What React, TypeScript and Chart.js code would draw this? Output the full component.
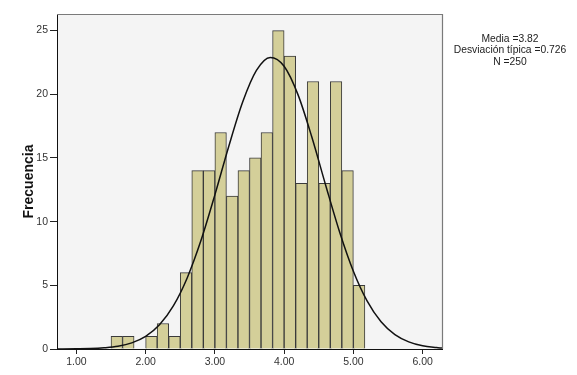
import React, { useEffect, useRef } from "react";
import { Chart, registerables } from "chart.js";

Chart.register(...registerables);

// Histogram bins (centre of each 1/6-wide bin) and their frequencies
const binCenters = [
  1.5833, 1.75, 1.9167, 2.0833, 2.25, 2.4167, 2.5833, 2.75, 2.9167, 3.0833, 3.25,
  3.4167, 3.5833, 3.75, 3.9167, 4.0833, 4.25, 4.4167, 4.5833, 4.75, 4.9167, 5.0833,
];
const frequencies = [1, 1, 0, 1, 2, 1, 6, 14, 14, 17, 12, 14, 15, 17, 25, 23, 13, 21, 13, 21, 14, 5];

// Normal curve points
const curveX = [
  0.72, 0.8, 1.0, 1.2, 1.4, 1.6, 1.8, 2.0, 2.2, 2.4, 2.6, 2.8, 3.0, 3.2, 3.4, 3.6, 3.8, 4.0,
  4.2, 4.4, 4.6, 4.8, 5.0, 5.2, 5.4, 5.6, 5.8, 6.0, 6.2, 6.28,
];
const curveY = [
  0.0, 0.0, 0.01, 0.03, 0.09, 0.21, 0.48, 0.99, 1.9, 3.38, 5.58, 8.53, 12.1, 15.9, 19.37,
  21.87, 22.89, 22.2, 19.97, 16.64, 12.86, 9.21, 6.11, 3.76, 2.14, 1.13, 0.56, 0.25, 0.11, 0.07,
];

const statsLines = ["Media =3.82", "Desviación típica =0.726", "N =250"];
const yTitle = "Frecuencia";

const FONT = "'Liberation Sans', Arial, sans-serif";

export default function App() {
  const ref = useRef<HTMLCanvasElement | null>(null);

  useEffect(() => {
    if (!ref.current) return;

    const framePlugin = {
      id: "frame",
      beforeDraw(chart: any) {
        const { ctx, chartArea: a } = chart;
        ctx.save();
        ctx.fillStyle = "#ffffff";
        ctx.fillRect(0, 0, chart.width, chart.height);
        ctx.fillStyle = "#f4f4f4";
        ctx.fillRect(a.left, a.top, a.right - a.left, a.bottom - a.top);
        ctx.restore();
      },
      afterDraw(chart: any) {
        const { ctx, chartArea: a } = chart;
        ctx.save();
        ctx.strokeStyle = "#7a7a7a";
        ctx.lineWidth = 1.2;
        ctx.beginPath();
        ctx.moveTo(a.left, a.top + 0.5);
        ctx.lineTo(a.right + 0.5, a.top + 0.5);
        ctx.lineTo(a.right + 0.5, a.bottom);
        ctx.stroke();
        ctx.fillStyle = "#222222";
        ctx.font = `10.3px ${FONT}`;
        ctx.textAlign = "center";
        ctx.textBaseline = "middle";
        statsLines.forEach((t, i) => ctx.fillText(t, 510, 39.5 + i * 11.1));
        ctx.restore();
      },
    };

    const chart = new Chart(ref.current, {
      type: "bar",
      data: {
        datasets: [
          {
            type: "line",
            data: curveX.map((x, i) => ({ x, y: curveY[i] })),
            borderColor: "#111111",
            borderWidth: 1.5,
            pointRadius: 0,
            cubicInterpolationMode: "monotone",
            fill: false,
            order: 0,
          } as any,
          {
            type: "bar",
            data: binCenters.map((x, i) => ({ x, y: frequencies[i] })),
            backgroundColor: "#d4cf99",
            borderColor: "#3a3a3a",
            borderWidth: 1,
            barPercentage: 1,
            categoryPercentage: 1,
            order: 1,
          } as any,
        ],
      },
      options: {
        responsive: false,
        animation: false,
        layout: { padding: { left: 0, right: 135, top: 14, bottom: 0 } },
        plugins: { legend: { display: false }, tooltip: { enabled: false } },
        scales: {
          x: {
            type: "linear",
            min: 0.72,
            max: 6.28,
            offset: false,
            afterFit: (s: any) => {
              s.height = 26;
            },
            ticks: {
              stepSize: 1,
              includeBounds: false,
              padding: 2,
              color: "#333333",
              font: { family: FONT, size: 10.5 },
              callback: (v: any) => Number(v).toFixed(2),
              maxRotation: 0,
            },
            grid: { drawOnChartArea: false, offset: false, tickLength: 5, color: "#222222" },
            border: { display: true, color: "#111111", width: 1 },
          },
          y: {
            min: 0,
            max: 26.3,
            afterFit: (s: any) => {
              s.width = 57;
            },
            ticks: {
              stepSize: 5,
              includeBounds: false,
              padding: 2,
              color: "#333333",
              font: { family: FONT, size: 10.5 },
            },
            grid: { drawOnChartArea: false, offset: false, tickLength: 7, color: "#222222" },
            border: { display: true, color: "#111111", width: 1 },
            title: {
              display: true,
              text: yTitle,
              color: "#111111",
              font: { family: FONT, size: 14, weight: "bold" },
              padding: { top: 21, bottom: 0 },
            },
          },
        },
      },
      plugins: [framePlugin],
    });

    return () => chart.destroy();
  }, []);

  return (
    <div style={{ position: "fixed", left: 0, top: 0, width: 577, height: 375 }}>
      <canvas ref={ref} width={577} height={375} />
    </div>
  );
}
